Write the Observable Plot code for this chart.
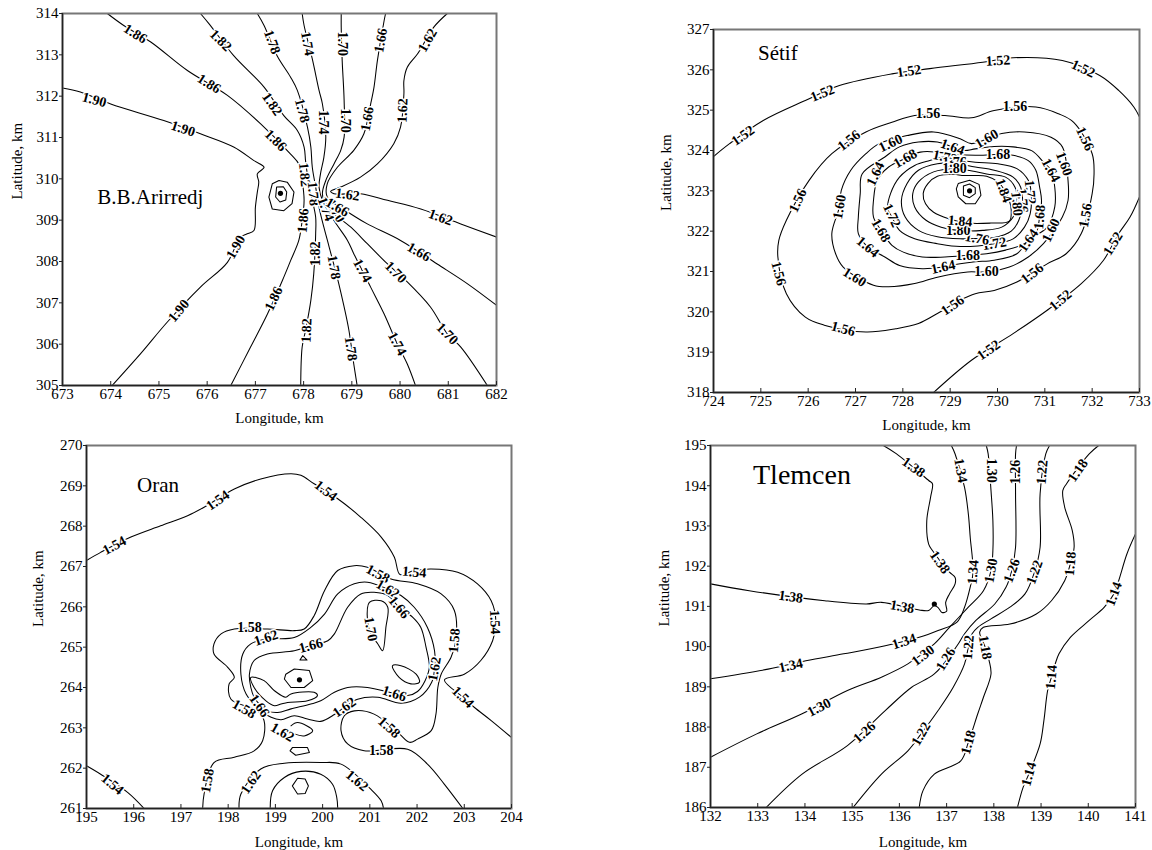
<!DOCTYPE html>
<html><head><meta charset="utf-8">
<script src="https://cdn.jsdelivr.net/npm/d3@7"></script>
<script src="https://cdn.jsdelivr.net/npm/@observablehq/plot@0.6"></script>
<style>
body{margin:0;background:#fff;width:1152px;height:850px;position:relative;overflow:hidden}
.panel{position:absolute}
</style></head><body>
<div id="p1" class="panel" style="left:0;top:0"></div>
<div id="p2" class="panel" style="left:600px;top:0"></div>
<div id="p3" class="panel" style="left:0;top:430px"></div>
<div id="p4" class="panel" style="left:600px;top:430px"></div>
<script>
// ---------------- B.B.Arirredj ----------------
const arirredjLonTicks = [673,674,675,676,677,678,679,680,681,682];
const arirredjLatTicks = [305,306,307,308,309,310,311,312,313,314];
const arirredjLines = [
 ["1.90", [[673.00,312.20],[673.37,312.10],[674.00,311.81],[675.10,311.41],[675.86,311.09],[676.55,310.77],[676.97,310.44],[677.18,310.28],[677.04,310.12],[677.07,309.92],[677.04,309.68],[677.00,309.31],[676.97,308.75],[676.83,308.67],[676.69,308.59],[676.42,307.98],[675.86,307.38],[675.17,306.53],[674.62,305.77],[674.03,305.00]]],
 ["1.86", [[673.93,314.00],[674.27,313.71],[674.83,313.31],[675.59,312.62],[676.42,312.02],[677.11,311.33],[677.73,310.60],[677.90,310.36],[677.97,309.96],[678.01,309.48],[677.97,308.99],[677.90,308.51],[677.73,308.02],[677.56,307.54],[677.25,306.73],[676.90,305.93],[676.49,305.00]]],
 ["1.82", [[675.86,314.00],[676.04,313.75],[676.55,312.98],[677.18,312.22],[677.59,311.53],[677.87,311.17],[678.01,310.77],[678.04,310.44],[678.08,310.08],[678.11,309.80],[678.18,309.48],[678.25,309.07],[678.25,308.67],[678.21,307.70],[678.15,307.06],[678.04,306.33],[677.97,305.93],[677.94,305.00]]],
 ["1.78", [[677.04,314.00],[677.18,313.71],[677.45,312.98],[677.73,312.46],[677.87,312.14],[678.08,311.25],[678.15,310.77],[678.18,310.28],[678.25,309.80],[678.32,309.31],[678.42,308.83],[678.53,308.35],[678.73,307.46],[678.84,306.90],[678.94,306.33],[679.04,305.52],[679.11,305.00]]],
 ["1.74", [[677.97,314.00],[678.01,313.71],[678.18,312.90],[678.32,312.14],[678.39,311.81],[678.46,311.01],[678.42,310.52],[678.35,310.12],[678.32,309.80],[678.39,309.48],[678.63,308.99],[678.91,308.51],[679.04,308.19],[679.39,307.38],[679.67,306.73],[679.94,306.01],[680.15,305.52],[680.32,305.00]]],
 ["1.70", [[678.78,314.00],[678.78,313.67],[678.80,312.86],[678.84,311.90],[678.84,311.01],[678.77,310.69],[678.63,310.36],[678.46,309.96],[678.39,309.64],[678.49,309.31],[678.98,308.83],[679.32,308.43],[679.74,307.94],[680.12,307.54],[680.63,306.90],[680.98,306.25],[681.26,305.93],[681.81,305.00]]],
 ["1.66", [[679.70,314.00],[679.67,313.83],[679.53,312.86],[679.46,312.22],[679.39,311.81],[679.25,311.09],[679.04,310.69],[678.70,310.28],[678.49,309.88],[678.49,309.56],[678.70,309.35],[678.98,309.15],[679.32,308.91],[680.01,308.51],[680.77,307.94],[681.40,307.46],[682.00,306.94]]],
 ["1.62", [[680.98,314.00],[680.70,313.67],[680.36,313.02],[680.15,312.70],[680.08,312.38],[680.08,312.06],[680.01,311.25],[679.87,310.85],[679.53,310.36],[679.18,310.04],[678.77,309.80],[678.56,309.70],[678.63,309.64],[679.18,309.64],[679.74,309.48],[680.43,309.27],[681.26,308.91],[682.00,308.59]]]
];
const arirredjLoops = [];
const arirredjPeaks = [
 ["1.94", [[677.35,309.88],[677.49,309.96],[677.66,309.92],[677.80,309.68],[677.76,309.40],[677.59,309.23],[677.35,309.27],[677.28,309.56]]],
 ["1.98", [[677.44,309.80],[677.58,309.81],[677.65,309.68],[677.63,309.49],[677.51,309.44],[677.42,309.56]]]
];
const arirredjDots = [[677.52,309.65]];
const arirredjLabels = [
 [674.51,313.51,"1.86",32],[676.04,312.30,"1.86",32],[677.42,310.93,"1.86",45],[677.99,308.99,"1.86",-85],[677.38,307.10,"1.86",-65],
 [676.28,313.35,"1.82",45],[677.35,311.81,"1.82",55],[678.02,310.10,"1.82",85],[678.25,308.19,"1.82",-90],[678.06,306.33,"1.82",-88],
 [677.35,313.31,"1.78",70],[677.97,311.65,"1.78",75],[678.20,309.64,"1.78",85],[678.63,307.86,"1.78",80],[678.98,305.89,"1.78",82],
 [678.08,313.27,"1.74",80],[678.41,311.37,"1.74",90],[678.46,309.27,"1.74",70],[679.22,307.78,"1.74",62],[679.94,306.01,"1.74",62],
 [678.80,313.27,"1.70",90],[678.87,311.41,"1.70",90],[678.66,309.23,"1.70",60],[679.91,307.74,"1.70",45],[680.98,306.25,"1.70",45],
 [679.60,313.35,"1.66",-80],[679.32,311.45,"1.66",-80],[678.70,309.31,"1.66",30],[680.39,308.23,"1.66",30],
 [680.57,313.35,"1.62",-60],[680.05,311.65,"1.62",-88],[678.91,309.62,"1.62",8],[680.84,309.07,"1.62",20],
 [673.66,311.91,"1.90",15],[675.50,311.21,"1.90",18],[676.59,308.35,"1.90",-60],[675.41,306.81,"1.90",-50]
];

// ---------------- Sétif ----------------
const setifLonTicks = [724,725,726,727,728,729,730,731,732,733];
const setifLatTicks = [318,319,320,321,322,323,324,325,326,327];
const setifLines = [
 ["1.52", [[724.00,323.85],[724.34,324.17],[725.06,324.75],[725.94,325.24],[726.66,325.61],[727.77,325.90],[728.57,326.03],[729.69,326.19],[730.33,326.30],[731.37,326.23],[732.16,325.86],[732.56,325.49],[732.88,325.08],[733.00,324.83]]],
 ["1.52", [[733.00,322.85],[732.80,322.35],[732.56,321.94],[732.24,321.28],[731.77,320.70],[731.05,320.04],[730.33,319.46],[729.45,318.80],[728.65,318.00]]]
];
const setifLoops = [
 ["1.56", [[728.25,324.87],[728.89,324.87],[729.45,324.81],[729.93,324.99],[730.81,325.08],[731.29,324.91],[731.61,324.70],[732.00,323.92],[732.04,323.42],[732.00,322.93],[731.77,321.94],[731.45,321.44],[731.05,321.19],[730.41,320.74],[729.93,320.53],[729.53,320.45],[729.21,320.29],[728.73,319.96],[728.33,319.71],[727.85,319.58],[727.22,319.50],[726.34,319.67],[725.94,319.87],[725.54,320.45],[725.36,321.36],[725.38,321.77],[725.54,322.27],[726.02,323.26],[726.50,323.92],[727.22,324.46],[727.77,324.70]]],
 ["1.60", [[727.50,324.17],[728.09,324.37],[728.65,324.46],[729.21,324.29],[729.45,324.17],[730.09,324.42],[730.57,324.46],[731.13,324.33],[731.37,324.09],[731.49,323.26],[731.49,322.76],[731.37,322.35],[730.97,321.69],[730.65,321.36],[730.25,321.11],[729.77,320.99],[729.37,320.99],[728.73,320.86],[728.25,320.70],[727.70,320.62],[727.38,320.66],[726.74,321.11],[726.58,321.44],[726.50,321.94],[726.66,322.60],[726.70,323.01],[726.90,323.51],[727.22,323.92]]],
 ["1.64", [[727.14,323.42],[727.62,323.84],[727.93,324.09],[728.33,324.21],[728.73,324.21],[729.05,324.09],[729.29,324.00],[729.53,324.04],[729.93,324.10],[730.33,324.09],[730.73,323.99],[730.97,323.71],[731.13,323.51],[731.21,323.09],[731.21,322.60],[731.05,322.10],[730.65,321.77],[730.41,321.44],[729.93,321.28],[729.53,321.24],[729.21,321.19],[728.85,321.11],[728.41,321.07],[727.93,321.15],[727.62,321.36],[727.26,321.61],[727.06,321.94],[727.06,322.35],[727.10,322.93]]],
 ["1.68", [[728.05,323.80],[728.37,323.96],[728.73,323.96],[729.13,323.90],[729.53,323.88],[730.01,323.90],[730.33,323.88],[730.65,323.75],[730.81,323.51],[730.89,323.09],[730.93,322.76],[730.89,322.35],[730.81,321.94],[730.57,321.69],[730.17,321.53],[729.77,321.44],[729.37,321.40],[728.89,321.36],[728.41,321.36],[728.01,321.48],[727.77,321.65],[727.54,322.02],[727.38,322.35],[727.38,322.76],[727.46,323.26],[727.70,323.59]]],
 ["1.72", [[728.89,323.84],[728.57,323.75],[728.25,323.63],[727.93,323.34],[727.74,322.93],[727.68,322.56],[727.77,322.35],[727.93,322.02],[728.25,321.81],[728.73,321.69],[729.21,321.62],[729.93,321.69],[730.33,321.81],[730.57,322.10],[730.69,322.43],[730.71,322.97],[730.65,323.26],[730.41,323.55],[730.01,323.67],[729.53,323.71],[729.13,323.77]]],
 ["1.76", [[729.05,323.69],[728.73,323.67],[728.33,323.51],[728.09,323.18],[727.97,322.76],[728.05,322.35],[728.33,322.02],[728.73,321.86],[729.21,321.81],[729.57,321.82],[729.93,321.84],[730.29,322.00],[730.45,322.27],[730.53,322.76],[730.49,323.09],[730.33,323.34],[729.93,323.51],[729.53,323.59]]],
 ["1.80", [[729.37,323.51],[729.09,323.55],[728.65,323.47],[728.33,323.22],[728.21,322.93],[728.25,322.60],[728.49,322.27],[728.81,322.10],[729.17,322.02],[729.69,322.02],[730.09,322.10],[730.33,322.35],[730.41,322.72],[730.37,323.09],[730.17,323.34],[729.77,323.42]]],
 ["1.84", [[729.09,323.41],[728.73,323.36],[728.53,323.18],[728.43,322.93],[728.48,322.68],[728.65,322.47],[728.97,322.31],[729.37,322.20],[729.85,322.20],[730.25,322.25],[730.29,322.52],[730.25,322.76],[730.13,323.05],[730.01,323.22],[729.77,323.36],[729.53,323.38],[729.25,323.38],[729.15,323.40]]]
];
const setifPeaks = [
 ["1.88", [[729.17,323.18],[729.41,323.26],[729.61,323.16],[729.65,322.89],[729.53,322.68],[729.33,322.68],[729.17,322.85],[729.13,323.05]]],
 ["1.92", [[729.28,323.12],[729.41,323.17],[729.53,323.08],[729.53,322.93],[729.41,322.83],[729.28,322.89]]]
];
const setifDots = [[729.41,323.00]];
const setifLabels = [
 [724.62,324.37,"1.52",-35],[726.30,325.42,"1.52",-22],[728.13,325.97,"1.52",-8],[730.01,326.23,"1.52",-3],[731.81,326.03,"1.52",25],
 [732.44,321.69,"1.52",-58],[731.33,320.29,"1.52",-40],[729.81,319.05,"1.52",-35],
 [728.53,324.91,"1.56",0],[730.37,325.08,"1.56",0],[731.85,324.29,"1.56",65],[731.86,322.39,"1.56",-80],[730.73,320.95,"1.56",-38],
 [729.05,320.16,"1.56",-35],[726.74,319.58,"1.56",15],[725.38,320.95,"1.56",75],[725.78,322.76,"1.56",-65],[726.86,324.25,"1.56",-38],
 [727.74,324.18,"1.60",-25],[729.77,324.29,"1.60",-30],[731.41,323.67,"1.60",70],[731.13,322.02,"1.60",-65],[729.77,320.99,"1.60",0],
 [726.98,320.86,"1.60",32],[726.66,322.60,"1.60",-80],
 [727.42,323.42,"1.64",-65],[729.05,324.09,"1.64",20],[731.13,323.51,"1.64",62],[730.65,321.77,"1.64",-55],[728.85,321.11,"1.64",-12],[727.26,321.61,"1.64",40],
 [728.05,323.80,"1.68",-30],[730.01,323.90,"1.68",0],[730.89,322.35,"1.68",-85],[729.37,321.40,"1.68",0],[727.54,322.02,"1.68",60],
 [728.89,323.84,"1.72",12],[727.77,322.39,"1.72",65],[729.93,321.69,"1.72",-10],[730.69,322.97,"1.72",85],
 [729.09,323.69,"1.76",0],[729.57,321.82,"1.76",10],[730.53,322.76,"1.76",85],
 [729.09,323.55,"1.80",0],[729.17,322.02,"1.80",0],[730.41,322.68,"1.80",85],
 [729.21,322.25,"1.84",5],[730.13,323.01,"1.84",70]
];

// ---------------- Oran ----------------
const oranLonTicks = [195,196,197,198,199,200,201,202,203,204];
const oranLatTicks = [261,262,263,264,265,266,267,268,269,270];
const oranLines = [
 ["1.54", [[195.00,267.15],[195.30,267.35],[195.94,267.73],[196.57,268.01],[197.14,268.26],[197.49,268.47],[198.13,268.92],[198.69,269.17],[199.33,269.30],[199.54,269.26],[199.82,269.05],[200.32,268.68],[200.81,268.22],[201.24,267.73],[201.52,267.23],[201.64,266.80],[201.94,266.90],[202.30,266.94],[202.86,266.86],[203.28,266.57],[203.57,266.15],[203.67,265.62],[203.60,265.16],[203.35,264.67],[203.00,264.33],[202.58,264.19],[202.97,263.76],[203.21,263.51],[203.57,263.18],[204.00,262.76]]],
 ["1.54", [[195.00,262.06],[195.30,261.85],[195.87,261.40],[196.22,261.00]]],
 ["1.58", [[197.46,261.00],[197.49,261.36],[197.70,262.14],[198.13,262.27],[198.55,262.43],[198.73,262.68],[198.76,263.18],[198.62,263.42],[198.06,263.71],[198.02,264.09],[198.13,264.25],[197.99,264.50],[197.70,264.83],[197.70,265.08],[197.85,265.33],[198.13,265.45],[198.83,265.45],[199.40,265.41],[199.61,265.45],[199.82,265.78],[200.04,266.40],[200.32,266.90],[200.67,267.02],[200.95,266.98],[201.45,266.69],[202.01,266.57],[202.51,266.32],[202.79,265.91],[202.82,265.16],[202.72,264.75],[202.51,264.33],[202.44,264.00],[202.40,263.34],[202.30,262.93],[202.01,262.72],[201.84,262.64],[201.59,262.89],[201.09,263.34],[200.67,263.42],[200.46,263.30],[200.39,262.93],[200.53,262.60],[200.88,262.43],[201.80,262.47],[202.22,262.10],[202.58,261.60],[202.97,261.00]]],
 ["1.62", [[198.23,261.00],[198.27,261.36],[198.69,261.98],[199.19,262.12],[199.96,262.14],[200.39,262.10],[201.02,261.48],[201.24,261.19],[201.29,261.00]]],
 ["1.66", [[198.89,261.00],[198.94,261.44],[199.19,261.77],[199.54,261.92],[199.96,261.85],[200.21,261.60],[200.30,261.27],[200.32,261.00]]],
 ["1.66", [[199.33,263.05],[199.47,263.13],[199.79,262.93],[199.61,262.80],[199.40,262.85]]]
];
const oranLoops = [
 ["1.62", [[201.66,266.28],[201.38,266.44],[200.95,266.61],[200.67,266.57],[200.32,266.32],[200.04,265.82],[199.75,265.49],[199.40,265.24],[198.80,265.20],[198.48,265.08],[198.31,264.83],[198.27,264.33],[198.38,263.84],[198.62,263.51],[198.91,263.26],[199.12,263.20],[199.40,263.30],[199.68,263.22],[199.96,263.16],[200.25,263.33],[200.46,263.51],[200.74,263.71],[201.17,263.76],[201.66,263.61],[202.05,263.76],[202.31,264.13],[202.37,264.46],[202.37,264.91],[202.22,265.49],[201.94,265.99]]],
 ["1.66", [[200.11,265.16],[199.75,265.04],[199.40,264.91],[198.83,264.83],[198.55,264.67],[198.45,264.33],[198.48,264.00],[198.55,263.76],[198.69,263.55],[198.83,263.42],[199.05,263.38],[199.33,263.47],[199.75,263.59],[199.96,263.67],[200.25,263.88],[200.53,264.00],[200.95,264.00],[201.52,263.85],[201.80,263.80],[202.01,263.90],[202.17,264.17],[202.26,264.50],[202.19,265.00],[202.08,265.49],[201.91,265.74],[201.62,265.99],[201.38,266.28],[201.09,266.36],[200.81,266.32],[200.53,265.99],[200.25,265.33]]],
 ["1.70", [[200.99,266.11],[201.24,266.15],[201.38,265.99],[201.34,265.49],[201.27,264.91],[201.17,265.08],[201.02,265.33],[200.95,265.66]]],
 ["1.70", [[201.48,264.54],[201.66,264.54],[201.98,264.33],[202.05,264.13],[201.87,264.09],[201.62,264.25]]],
 ["1.70", [[198.48,264.25],[198.76,264.17],[198.98,263.92],[199.22,263.76],[199.33,263.84],[199.82,263.88],[199.89,263.80],[199.68,263.67],[199.26,263.63],[199.12,263.59],[198.98,263.55],[198.80,263.67],[198.55,264.00]]]
];
const oranPeaks = [
 ["1.74", [[199.22,264.33],[199.40,264.46],[199.72,264.42],[199.79,264.17],[199.61,264.00],[199.33,264.00],[199.19,264.21]]],
 ["1.70", [[199.58,264.79],[199.67,264.68],[199.52,264.68]]],
 ["1.62", [[199.36,262.51],[199.68,262.51],[199.72,262.39],[199.43,262.32],[199.31,262.43]]],
 ["1.70", [[199.47,261.75],[199.63,261.73],[199.70,261.56],[199.63,261.37],[199.47,261.36],[199.36,261.56]]]
];
const oranDots = [[199.51,264.19]];
const oranLabels = [
 [195.59,267.52,"1.54",-28],[197.78,268.64,"1.54",-35],[200.07,268.88,"1.54",38],[201.94,266.86,"1.54",5],[203.65,265.62,"1.54",88],[202.97,263.76,"1.54",45],[195.55,261.60,"1.54",40],
 [198.45,265.48,"1.58",0],[201.17,266.82,"1.58",28],[202.79,265.16,"1.58",-85],[198.34,263.47,"1.58",30],[197.56,261.69,"1.58",-80],[201.41,263.01,"1.58",42],[201.24,262.43,"1.58",0],
 [201.38,266.44,"1.62",30],[198.80,265.23,"1.62",-18],[202.37,264.46,"1.62",-80],[200.46,263.51,"1.62",-35],[199.15,262.89,"1.62",30],[198.48,261.65,"1.62",-55],[200.73,261.69,"1.62",40],
 [199.75,265.04,"1.66",-15],[201.62,265.99,"1.66",50],[201.52,263.85,"1.66",18],[198.66,263.55,"1.66",55],
 [201.02,265.45,"1.70",80]
];

// ---------------- Tlemcen ----------------
const tlemcenLonTicks = [132,133,134,135,136,137,138,139,140,141];
const tlemcenLatTicks = [186,187,188,189,190,191,192,193,194,195];
const tlemcenLines = [
 ["1.38", [[132.00,191.56],[132.82,191.39],[134.42,191.14],[135.30,191.06],[135.62,191.10],[136.42,190.91],[136.62,190.90],[136.74,191.02],[136.82,190.97],[136.90,190.85],[137.00,190.88],[136.98,191.10],[137.06,191.31],[137.18,191.56],[137.18,191.72],[137.06,191.85],[136.70,192.39],[136.62,192.55],[136.58,193.13],[136.66,193.71],[136.70,194.05],[136.62,194.13],[135.94,194.79],[135.66,195.00]]],
 ["1.34", [[137.10,195.00],[137.18,194.79],[137.38,193.96],[137.46,193.30],[137.50,192.72],[137.56,191.85],[137.50,191.48],[137.38,190.98],[137.22,190.61],[136.82,190.40],[136.42,190.23],[135.70,190.02],[134.82,189.82],[134.02,189.65],[133.22,189.44],[132.00,189.20]]],
 ["1.30", [[137.84,195.00],[137.88,194.79],[137.94,193.88],[137.98,193.13],[137.98,192.39],[137.94,191.89],[137.78,191.39],[137.46,190.98],[137.06,190.48],[136.74,190.07],[136.18,189.57],[135.62,189.24],[134.90,188.91],[133.94,188.33],[132.98,187.83],[132.00,187.25]]],
 ["1.26", [[138.48,195.00],[138.46,194.79],[138.46,193.80],[138.46,192.47],[138.38,191.89],[138.26,191.48],[138.02,191.06],[137.62,190.65],[137.38,190.32],[137.22,190.02],[136.74,189.32],[136.26,188.99],[135.70,188.41],[134.90,187.54],[133.94,186.83],[133.18,186.00]]],
 ["1.22", [[139.18,195.00],[139.10,194.79],[138.98,193.80],[138.98,192.47],[138.86,191.85],[138.66,191.31],[138.34,190.98],[137.94,190.69],[137.66,190.48],[137.54,190.32],[137.46,189.98],[137.38,189.57],[137.14,188.99],[136.82,188.41],[136.46,187.83],[136.18,187.41],[135.62,186.83],[135.02,186.00]]],
 ["1.18", [[140.22,195.00],[140.02,194.79],[139.54,194.05],[139.46,193.88],[139.50,193.47],[139.66,192.89],[139.70,192.47],[139.62,192.06],[139.50,191.64],[139.22,191.14],[138.90,190.81],[138.34,190.56],[137.78,190.48],[137.70,190.36],[137.82,189.98],[137.90,189.65],[137.94,189.32],[137.78,188.74],[137.66,188.33],[137.46,187.62],[137.30,187.16],[136.74,186.83],[136.50,186.42],[136.42,186.00]]],
 ["1.14", [[141.00,192.80],[140.82,192.31],[140.54,191.31],[140.34,190.98],[140.02,190.65],[139.62,190.23],[139.38,189.82],[139.30,189.57],[139.22,189.24],[139.14,188.91],[139.06,188.16],[138.98,187.58],[138.74,186.83],[138.62,186.50],[138.50,186.00]]]
];
const tlemcenLoops = [];
const tlemcenPeaks = [];
const tlemcenDots = [[136.74,191.06]];
const tlemcenLabels = [
 [136.30,194.46,"1.38",35],[136.86,192.10,"1.38",55],[133.70,191.24,"1.38",8],[136.06,190.99,"1.38",10],
 [137.30,194.38,"1.34",80],[137.56,191.85,"1.34",-85],[136.10,190.13,"1.34",-18],[133.70,189.53,"1.34",-12],
 [137.94,194.38,"1.30",90],[137.94,191.89,"1.30",-80],[136.50,189.78,"1.30",-38],[134.30,188.49,"1.30",-27],
 [138.46,194.34,"1.26",-90],[138.38,191.89,"1.26",-70],[136.98,189.69,"1.26",-58],[135.26,187.87,"1.26",-42],
 [139.02,194.34,"1.22",-85],[138.86,191.85,"1.22",-70],[137.46,189.98,"1.22",-85],[136.46,187.83,"1.22",-60],
 [139.78,194.38,"1.18",-55],[139.62,192.06,"1.18",-85],[137.82,189.98,"1.18",80],[137.46,187.62,"1.18",-75],
 [140.54,191.31,"1.14",-70],[139.22,189.24,"1.14",-85],[138.74,186.83,"1.14",-75]
];

const panelTitles = [
 {text: "B.B.Arirredj", lon: 673.72, lat: 309.55, size: 21},
 {text: "Sétif", lon: 724.94, lat: 326.40, size: 21},
 {text: "Oran", lon: 196.07, lat: 269.01, size: 21},
 {text: "Tlemcen", lon: 132.90, lat: 194.27, size: 28}
];

const FONT = "'Liberation Serif','Times New Roman',serif";

function rows(list, prefix) {
  return list.flatMap(([lv, pts], i) => pts.map(([x, y]) => ({x, y, id: prefix + i, lv})));
}

function makePanel(cfg) {
  const {el, xTicks, yTicks, m, fw, fh, lines, loops, peaks, dots, labels, title, ylabelDx, xlabelDy} = cfg;
  const xDomain = [xTicks[0], xTicks[xTicks.length - 1]];
  const yDomain = [yTicks[0], yTicks[yTicks.length - 1]];
  const lineOpts = {x: "x", y: "y", z: "id", stroke: "#000", strokeWidth: 1.05, clip: true};
  const chart = Plot.plot({
    width: m.l + fw + m.r,
    height: m.t + fh + m.b,
    marginLeft: m.l, marginRight: m.r, marginTop: m.t, marginBottom: m.b,
    style: {fontFamily: FONT, fontSize: "15px", background: "transparent", color: "#000", overflow: "visible"},
    x: {domain: xDomain, label: null},
    y: {domain: yDomain, label: null},
    marks: [
      Plot.line(rows(lines, "o"), {...lineOpts, curve: "catmull-rom"}),
      Plot.line(rows(loops, "c"), {...lineOpts, curve: "catmull-rom-closed"}),
      Plot.line(rows(peaks, "p"), {...lineOpts, curve: "linear-closed"}),
      Plot.dot(dots, {x: d => d[0], y: d => d[1], r: 2.6, fill: "#000", stroke: "none"}),
      Plot.text(labels, {x: d => d[0], y: d => d[1], text: d => d[2], rotate: d => d[3],
        fontWeight: "bold", fontSize: 14, fontFamily: FONT, fill: "#000", stroke: "#fff", strokeWidth: 3, paintOrder: "stroke"}),
      Plot.text([title], {x: "lon", y: "lat", text: "text", fontSize: title.size, fontFamily: FONT,
        textAnchor: "start", lineAnchor: "middle", fill: "#000"}),
      Plot.frame({stroke: "#777", strokeWidth: 2}),
      Plot.ruleX([xDomain[0]], {stroke: "#222", strokeWidth: 1.4}),
      Plot.ruleY([yDomain[0]], {stroke: "#222", strokeWidth: 1.4}),
      Plot.ruleX(xTicks, {stroke: "#222", insetTop: fh - 4}),
      Plot.axisX({ticks: xTicks, tickSize: 0, tickPadding: 3, tickFormat: d => String(d), fontSize: 15, fontFamily: FONT, fill: "#000"}),
      Plot.axisY({ticks: yTicks, tickSize: 3, tickPadding: 1, tickFormat: d => String(d), fontSize: 15, fontFamily: FONT, fill: "#000", stroke: "#222"}),
      Plot.text(["Longitude, km"], {frameAnchor: "bottom", dy: xlabelDy, lineAnchor: "middle", fontSize: 15, fontFamily: FONT, fill: "#000"}),
      Plot.text(["Latitude, km"], {frameAnchor: "left", dx: ylabelDx, rotate: -90, lineAnchor: "middle", fontSize: 15, fontFamily: FONT, fill: "#000"})
    ]
  });
  document.getElementById(el).appendChild(chart);
}

makePanel({el: "p1", xTicks: arirredjLonTicks, yTicks: arirredjLatTicks, m: {l: 62, t: 13, r: 10, b: 45}, fw: 434, fh: 372,
  lines: arirredjLines, loops: arirredjLoops, peaks: arirredjPeaks, dots: arirredjDots, labels: arirredjLabels,
  title: panelTitles[0], ylabelDx: -45, xlabelDy: 33});
makePanel({el: "p2", xTicks: setifLonTicks, yTicks: setifLatTicks, m: {l: 113, t: 29, r: 12, b: 45}, fw: 426, fh: 363,
  lines: setifLines, loops: setifLoops, peaks: setifPeaks, dots: setifDots, labels: setifLabels,
  title: panelTitles[1], ylabelDx: -47, xlabelDy: 33});
makePanel({el: "p3", xTicks: oranLonTicks, yTicks: oranLatTicks, m: {l: 86, t: 15, r: 10, b: 42}, fw: 425, fh: 363,
  lines: oranLines, loops: oranLoops, peaks: oranPeaks, dots: oranDots, labels: oranLabels,
  title: panelTitles[2], ylabelDx: -48, xlabelDy: 34});
makePanel({el: "p4", xTicks: tlemcenLonTicks, yTicks: tlemcenLatTicks, m: {l: 110, t: 15, r: 15, b: 43}, fw: 425, fh: 362,
  lines: tlemcenLines, loops: tlemcenLoops, peaks: tlemcenPeaks, dots: tlemcenDots, labels: tlemcenLabels,
  title: panelTitles[3], ylabelDx: -46, xlabelDy: 35});
</script>
</body></html>
